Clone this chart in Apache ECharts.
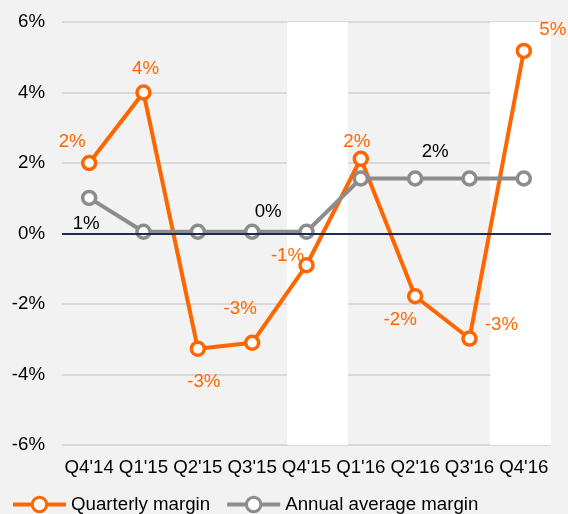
<!DOCTYPE html>
<html lang="en">
<head>
    <meta charset="UTF-8">
    <title>Margins</title>
    <style>
        body { margin: 0; }
        #chart { width: 568px; height: 514px; }
    </style>
</head>
<body>
    <div id="chart"></div>
    <script src="https://cdn.jsdelivr.net/npm/echarts@6/dist/echarts.min.js"></script>
    <script>
        const categories = ["Q4'14", "Q1'15", "Q2'15", "Q3'15", "Q4'15", "Q1'16", "Q2'16", "Q3'16", "Q4'16"];
        const quarterly = [2.0, 4.0, -3.27, -3.1, -0.9, 2.12, -1.78, -2.98, 5.18];
        const annual = [1.01, 0.05, 0.05, 0.05, 0.05, 1.56, 1.56, 1.56, 1.56];
        // label offsets per point, null = no label
        const quarterlyLabelOffsets = [[-17, -21], [2, -24], [6, 33], [-12, -34], [-19, -9], [-4, -17], [-15, 24], [32, -14], [29, -21]];
        const annualLabelOffsets = [[-3, 26], null, null, [16, -20], null, null, [20, -27], null, null];
        // white bands, in category index units
        const bands = [[3.64, 4.76], [7.38, 8.5]];

        const font = 'Liberation Sans, Arial, sans-serif';
        const fs = 18.7;
        const chart = echarts.init(document.getElementById('chart'));

        function buildData(values, offsets, color) {
            return values.map((v, i) => {
                const off = offsets[i];
                return {
                    value: v,
                    label: off ? {
                        show: true,
                        position: 'inside',
                        offset: off,
                        color: color,
                        fontSize: fs,
                        fontFamily: font,
                        formatter: p => Math.round(p.value) + '%'
                    } : { show: false }
                };
            });
        }

        const option = {
            backgroundColor: '#f2f2f2',
            animation: false,
            grid: { left: 62, right: 17, top: 22, bottom: 69 },
            legend: {
                left: 6,
                top: 490,
                itemWidth: 53,
                itemHeight: 18,
                itemGap: 15,
                lineStyle: { width: 4 },
                itemStyle: { borderWidth: 3 },
                textStyle: { fontSize: fs, fontFamily: font, color: '#000' },
                data: ['Quarterly margin', 'Annual average margin']
            },
            xAxis: [
                {
                    type: 'category',
                    data: categories,
                    axisLine: { show: false },
                    axisTick: { show: false },
                    axisLabel: { color: '#000', fontSize: fs, fontFamily: font, margin: 13, interval: 0 }
                },
                {
                    type: 'value',
                    min: -0.5,
                    max: 8.5,
                    show: false
                }
            ],
            yAxis: {
                type: 'value',
                min: -6,
                max: 6,
                interval: 2,
                axisLine: { show: false },
                axisTick: { show: false },
                axisLabel: { color: '#000', fontSize: fs, fontFamily: font, margin: 17, formatter: '{value}%' },
                splitLine: { lineStyle: { color: '#d9d9d9', width: 2 } }
            },
            series: [
                {
                    type: 'line',
                    xAxisIndex: 1,
                    data: [],
                    silent: true,
                    z: -1,
                    markArea: {
                        silent: true,
                        itemStyle: { color: '#ffffff' },
                        data: bands.map(b => [{ xAxis: b[0] }, { xAxis: b[1] }])
                    }
                },
                {
                    name: 'Quarterly margin',
                    type: 'line',
                    data: buildData(quarterly, quarterlyLabelOffsets, '#ff6600'),
                    symbol: 'circle',
                    symbolSize: 13,
                    lineStyle: { color: '#ff6600', width: 4 },
                    itemStyle: { color: '#ffffff', borderColor: '#ff6600', borderWidth: 3.5 },
                    markLine: {
                        silent: true,
                        symbol: 'none',
                        label: { show: false },
                        lineStyle: { color: '#1f2a5c', width: 2, type: 'solid' },
                        data: [{ yAxis: 0 }]
                    }
                },
                {
                    name: 'Annual average margin',
                    type: 'line',
                    data: buildData(annual, annualLabelOffsets, '#000000'),
                    symbol: 'circle',
                    symbolSize: 13,
                    lineStyle: { color: '#8c8c8c', width: 4 },
                    itemStyle: { color: '#ffffff', borderColor: '#8c8c8c', borderWidth: 3.5 }
                }
            ]
        };

        chart.setOption(option);
    </script>
</body>
</html>
